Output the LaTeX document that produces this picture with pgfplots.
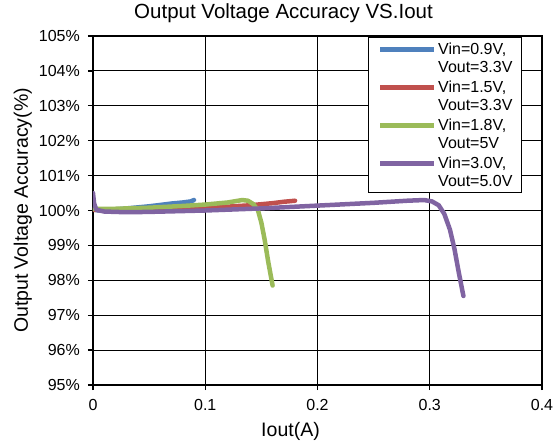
\documentclass[border=0pt]{standalone}
\usepackage{fontspec}
\setmainfont{Liberation Sans}
\usepackage{pgfplots}
\pgfplotsset{compat=1.18}

\definecolor{xlblue}{HTML}{4F81BD}
\definecolor{xlred}{HTML}{C0504D}
\definecolor{xlgreen}{HTML}{9BBB59}
\definecolor{xlpurple}{HTML}{8064A2}

\begin{document}
\begin{tikzpicture}
\begin{axis}[
    at={(0,0)}, anchor=south west,
    scale only axis,
    width=449pt, height=349pt,
    xmin=0, xmax=0.4,
    ymin=95, ymax=105,
    xtick={0,0.1,0.2,0.3,0.4},
    ytick={95,96,...,105},
    yticklabel={\pgfmathprintnumber{\tick}\%},
    /pgf/number format/assume math mode=true,
    ticklabel style={font=\fontsize{16}{18}\selectfont, inner sep=0pt},
    yticklabel style={anchor=east, xshift=-8pt},
    xticklabel style={anchor=north, yshift=-9pt},
    title={Output Voltage Accuracy VS.Iout},
    title style={font=\fontsize{20.5}{23}\selectfont, inner sep=0pt,
        at={([xshift=-34pt,yshift=11pt]axis description cs:0.5,1)}, anchor=base},
    xlabel={Iout(A)},
    ylabel={Output Voltage Accuracy(\%)},
    label style={font=\fontsize{19.5}{22}\selectfont, inner sep=0pt},
    xlabel style={at={([xshift=-27pt,yshift=-51pt]axis description cs:0.5,0)}, anchor=base},
    ylabel style={at={([xshift=-65pt]axis description cs:0,0.5)}, anchor=base},
    grid=major,
    major grid style={black, line width=1pt},
    axis line style={black, line width=1.3pt},
    tick style={black, line width=1.3pt},
    tick align=outside,
    major tick length=5pt,
    xtick pos=bottom, ytick pos=left,
    legend style={at={(1,1)}, anchor=north east, xshift=-20pt, yshift=-1pt,
        draw=black, line width=1pt,
        font=\fontsize{16}{18}\selectfont, nodes={align=left, inner sep=0pt},
        row sep=7pt, inner xsep=9pt, inner ysep=5pt, column sep=0pt},
    legend cell align=left,
    legend image code/.code={
        \draw[#1, line width=5pt, line cap=butt] (0pt,9pt) -- (54pt,9pt);
        \path[draw=none] (0pt,-9pt) -- (58pt,-9pt);},
    every axis plot/.append style={line width=4.5pt, no markers, line join=round, line cap=round},
]
\addplot[color=xlblue] coordinates {
(0,100.03) (0.005,100.0) (0.01,100.0) (0.02,100.03) (0.03,100.06) (0.04,100.09)
(0.05,100.12) (0.06,100.16) (0.07,100.2) (0.08,100.23) (0.087,100.26) (0.09,100.3)};
\addlegendentry{Vin=0.9V,\\Vout=3.3V}
\addplot[color=xlred] coordinates {
(0,100.02) (0.02,100.02) (0.05,100.04) (0.08,100.07) (0.1,100.09) (0.12,100.11)
(0.13,100.13) (0.14,100.15) (0.15,100.18) (0.16,100.21) (0.17,100.25) (0.18,100.28)};
\addlegendentry{Vin=1.5V,\\Vout=3.3V}
\addplot[color=xlgreen] coordinates {
(0,100.05) (0.02,100.05) (0.05,100.08) (0.08,100.13) (0.1,100.17) (0.12,100.23)
(0.133,100.3) (0.138,100.28) (0.143,100.18) (0.147,100.0) (0.15,99.65)
(0.153,99.15) (0.156,98.55) (0.16,97.85)};
\addlegendentry{Vin=1.8V,\\Vout=5V}
\addplot[color=xlpurple] coordinates {
(0,100.5) (0.001,100.2) (0.003,100.02) (0.01,99.97) (0.03,99.95) (0.05,99.96)
(0.1,100.0) (0.15,100.06) (0.2,100.14) (0.25,100.22) (0.28,100.28) (0.295,100.3)
(0.302,100.26) (0.308,100.15) (0.313,99.9) (0.318,99.45) (0.322,98.9)
(0.326,98.2) (0.33,97.55)};
\addlegendentry{Vin=3.0V,\\Vout=5.0V}
\end{axis}
\pgfresetboundingbox
\path (-93pt,-59pt) rectangle (466pt,385pt);
\end{tikzpicture}
\end{document}
